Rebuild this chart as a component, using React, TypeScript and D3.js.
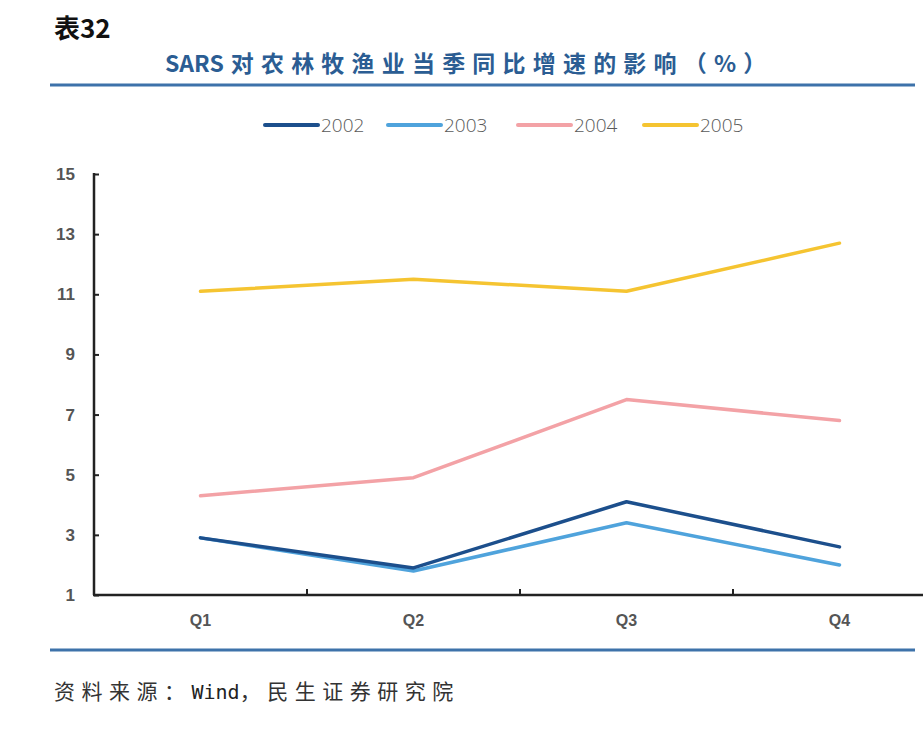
import { useEffect, useRef } from "react";
import * as d3 from "d3";

// ── Data ──────────────────────────────────────────────────────────────────────
const quarters = ["Q1", "Q2", "Q3", "Q4"];
const years = ["2002", "2003", "2004", "2005"];
const v2002 = [2.9, 1.9, 4.1, 2.6];
const v2003 = [2.9, 1.8, 3.4, 2.0];
const v2004 = [4.3, 4.9, 7.5, 6.8];
const v2005 = [11.1, 11.5, 11.1, 12.7];
const yTicks = [1, 3, 5, 7, 9, 11, 13, 15];
const colors = ["#1c4f8c", "#4fa3dc", "#f3a2a6", "#f5c431"];

export default function App() {
  const svgRef = useRef<SVGSVGElement>(null);

  useEffect(() => {
    if (!svgRef.current) return;
    const width = 923;
    const height = 738;
    const svg = d3.select(svgRef.current);
    svg.selectAll("*").remove();

    svg.append("rect").attr("width", width).attr("height", height).attr("fill", "#fff");

    // ── Titles ───────────────────────────────────────────────────────────────
    svg.append("text")
      .attr("x", 54).attr("y", 38)
      .attr("font-family", "'Noto Sans CJK SC', sans-serif")
      .attr("font-size", 26).attr("font-weight", "bold").attr("fill", "#111")
      .text("表32");

    const sub = svg.append("text")
      .attr("x", 165).attr("y", 72)
      .attr("font-family", "'Noto Sans CJK SC', sans-serif")
      .attr("font-weight", "bold").attr("fill", "#2b5d93");
    sub.append("tspan").attr("font-size", 23).text("SARS");
    sub.append("tspan").attr("font-size", 23).attr("letter-spacing", 7.2)
      .attr("dx", 7).text("对农林牧渔业当季同比增速的影响（%）");

    svg.append("line")
      .attr("x1", 50).attr("x2", 915).attr("y1", 85).attr("y2", 85)
      .attr("stroke", "#3d72aa").attr("stroke-width", 3);

    svg.append("line")
      .attr("x1", 50).attr("x2", 915).attr("y1", 650).attr("y2", 650)
      .attr("stroke", "#3d72aa").attr("stroke-width", 3);

    const src = svg.append("text")
      .attr("x", 54).attr("y", 699)
      .attr("font-family", "'Noto Sans CJK SC', sans-serif")
      .attr("font-size", 21).attr("fill", "#333");
    src.append("tspan").attr("letter-spacing", 6.5).text("资料来源：");
    src.append("tspan").attr("font-family", "'DejaVu Sans Mono', monospace")
      .attr("font-size", 20).attr("fill", "#222").text("Wind");
    src.append("tspan").attr("letter-spacing", 6.5).text("，民生证券研究院");

    // ── Scales ───────────────────────────────────────────────────────────────
    const x = d3.scaleBand().domain(quarters).range([94, 946]).padding(0);
    const y = d3.scaleLinear().domain([1, 15]).range([595, 174]);

    // ── Legend ───────────────────────────────────────────────────────────────
    const legendX = [265, 388, 518, 644];
    years.forEach((yr, i) => {
      const lg = svg.append("g").attr("transform", `translate(${legendX[i]},125)`);
      lg.append("line")
        .attr("x1", 0).attr("x2", 53).attr("y1", 0).attr("y2", 0)
        .attr("stroke", colors[i]).attr("stroke-width", 4).attr("stroke-linecap", "round");
      lg.append("text")
        .attr("x", 56).attr("y", 7)
        .attr("font-family", "'Open Sans', sans-serif")
        .attr("font-size", 19).attr("font-weight", 300).attr("fill", "#595959")
        .text(yr);
    });

    // ── Axes ─────────────────────────────────────────────────────────────────
    const yAxisG = svg.append("g")
      .attr("transform", "translate(94,0)")
      .call(d3.axisRight(y).tickValues(yTicks).tickSize(5).tickFormat(() => ""));
    yAxisG.select(".domain").remove();
    yAxisG.selectAll(".tick line").attr("stroke", "#222").attr("stroke-width", 2);
    yAxisG.append("line")
      .attr("x1", 0).attr("x2", 0).attr("y1", y(15) - 1).attr("y2", y(1))
      .attr("stroke", "#222").attr("stroke-width", 2.5);

    svg.append("g").selectAll("text")
      .data(yTicks).enter().append("text")
      .attr("x", 75).attr("y", (d) => y(d) + 6)
      .attr("text-anchor", "end")
      .attr("font-family", "Arial, 'Liberation Sans', sans-serif")
      .attr("font-size", 17).attr("font-weight", "bold").attr("fill", "#555")
      .text((d) => d);

    const xAxisG = svg.append("g")
      .attr("transform", `translate(0,${y(1)})`)
      .call(d3.axisTop(x).tickValues([]).tickSize(0));
    xAxisG.select(".domain").remove();
    xAxisG.append("line")
      .attr("x1", 93).attr("x2", 923).attr("y1", 0).attr("y2", 0)
      .attr("stroke", "#222").attr("stroke-width", 2.5);
    xAxisG.selectAll(".sep")
      .data(quarters.slice(1)).enter().append("line")
      .attr("class", "sep")
      .attr("x1", (d) => x(d) as number).attr("x2", (d) => x(d) as number)
      .attr("y1", 0).attr("y2", -6)
      .attr("stroke", "#222").attr("stroke-width", 2);

    svg.append("g").selectAll("text")
      .data(quarters).enter().append("text")
      .attr("x", (d) => (x(d) as number) + x.bandwidth() / 2)
      .attr("y", 626)
      .attr("text-anchor", "middle")
      .attr("font-family", "Arial, 'Liberation Sans', sans-serif")
      .attr("font-size", 16).attr("font-weight", "bold").attr("fill", "#555")
      .text((d) => d);

    // ── Lines ────────────────────────────────────────────────────────────────
    const series = [v2002, v2003, v2004, v2005];
    const line = d3.line<number>()
      .x((_, i) => (x(quarters[i]) as number) + x.bandwidth() / 2)
      .y((d) => y(d));

    [3, 2, 1, 0].forEach((si) => {
      svg.append("path")
        .datum(series[si])
        .attr("d", line)
        .attr("fill", "none")
        .attr("stroke", colors[si])
        .attr("stroke-width", 3.5)
        .attr("stroke-linejoin", "round")
        .attr("stroke-linecap", "round");
    });
  }, []);

  return (
    <svg
      ref={svgRef}
      width={923}
      height={738}
      style={{ position: "absolute", left: 0, top: 0, display: "block" }}
    />
  );
}
